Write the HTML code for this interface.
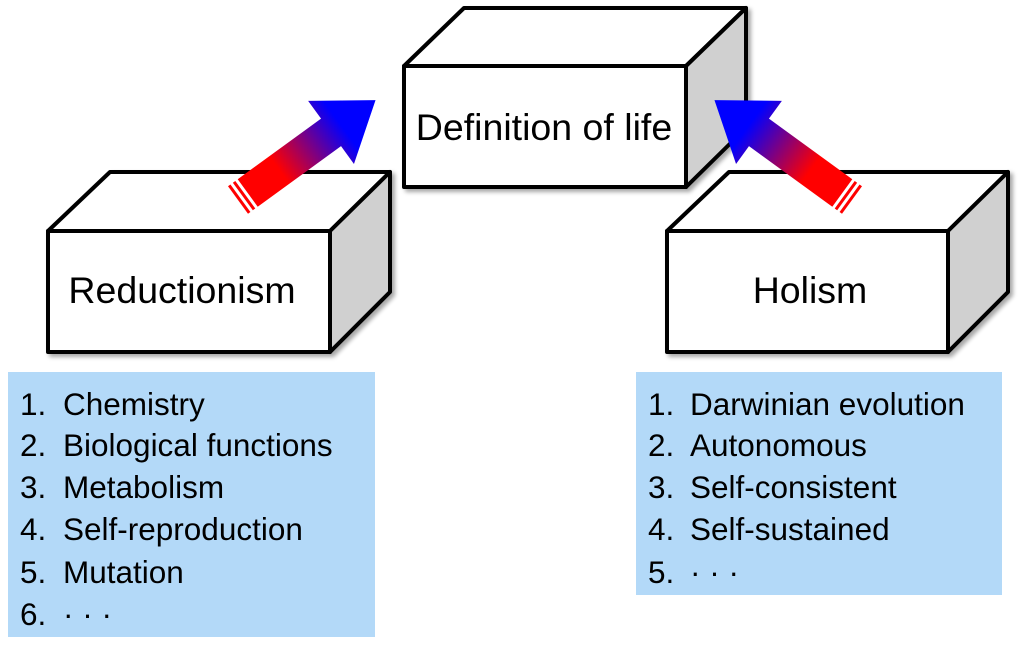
<!DOCTYPE html>
<html><head><meta charset="utf-8"><style>
body{margin:0;background:#fff;width:1024px;height:647px;overflow:hidden;font-family:"Liberation Sans",Arial,sans-serif}
</style></head><body>
<svg width="1024" height="647" viewBox="0 0 1024 647" xmlns="http://www.w3.org/2000/svg" font-family="Liberation Sans, Arial, sans-serif">
<defs>
<linearGradient id="g" x1="0" y1="0" x2="170" y2="0" gradientUnits="userSpaceOnUse">
<stop offset="0.3" stop-color="#ff0000"/><stop offset="0.75" stop-color="#0000ff"/></linearGradient>
<filter id="sh" x="-10%" y="-10%" width="130%" height="130%"><feDropShadow dx="3" dy="3" stdDeviation="2" flood-color="#000" flood-opacity="0.35"/></filter>
<g id="arrow">
<polygon points="12,-17 115,-17 115,-39 170,0 115,39 115,17 12,17" fill="url(#g)"/>
<rect x="0" y="-17" width="3" height="34" fill="#f00"/>
<rect x="6" y="-17" width="3" height="34" fill="#f00"/>
</g>
</defs>
<g filter="url(#sh)" stroke="#000" stroke-width="4" stroke-linejoin="round">
<polygon points="404,66 464,8 746,8 686,66" fill="#fff"/>
<polygon points="686,66 746,8 746,128 686,187" fill="#d0d0d0"/>
<rect x="404" y="66" width="282" height="121" fill="#fff"/>
</g>
<text x="544" y="140" font-size="37.5" text-anchor="middle">Definition of life</text>
<g filter="url(#sh)" stroke="#000" stroke-width="4" stroke-linejoin="round">
<polygon points="48,231 110,172 390,172 330,231" fill="#fff"/>
<polygon points="330,231 390,172 390,292 330,352" fill="#d0d0d0"/>
<rect x="48" y="231" width="282" height="121" fill="#fff"/>
</g>
<text x="182" y="303" font-size="37.5" text-anchor="middle">Reductionism</text>
<g filter="url(#sh)" stroke="#000" stroke-width="4" stroke-linejoin="round">
<polygon points="667,231 729,172 1008,172 948,231" fill="#fff"/>
<polygon points="948,231 1008,172 1008,292 948,352" fill="#d0d0d0"/>
<rect x="667" y="231" width="281" height="121" fill="#fff"/>
</g>
<text x="810" y="303" font-size="37.5" text-anchor="middle">Holism</text>
<use href="#arrow" transform="translate(238,200) rotate(-36)"/>
<use href="#arrow" transform="translate(852,200) scale(-1,1) rotate(-36)"/>
<rect x="8" y="372" width="367" height="265" fill="#b3d9f8"/>
<g font-size="31.5" fill="#000">
<text x="20" y="415">1.</text><text x="63" y="415">Chemistry</text>
<text x="20" y="456">2.</text><text x="63" y="456">Biological functions</text>
<text x="20" y="498">3.</text><text x="63" y="498">Metabolism</text>
<text x="20" y="540">4.</text><text x="63" y="540">Self-reproduction</text>
<text x="20" y="583">5.</text><text x="63" y="583">Mutation</text>
<text x="20" y="625">6.</text><text x="63" y="625">· · ·</text>
</g>
<rect x="636" y="372" width="366" height="223" fill="#b3d9f8"/>
<g font-size="31.5" fill="#000">
<text x="648" y="415">1.</text><text x="690" y="415">Darwinian evolution</text>
<text x="648" y="456">2.</text><text x="690" y="456">Autonomous</text>
<text x="648" y="498">3.</text><text x="690" y="498">Self-consistent</text>
<text x="648" y="540">4.</text><text x="690" y="540">Self-sustained</text>
<text x="648" y="583">5.</text><text x="690" y="583">· · ·</text>
</g>
</svg>
</body></html>
